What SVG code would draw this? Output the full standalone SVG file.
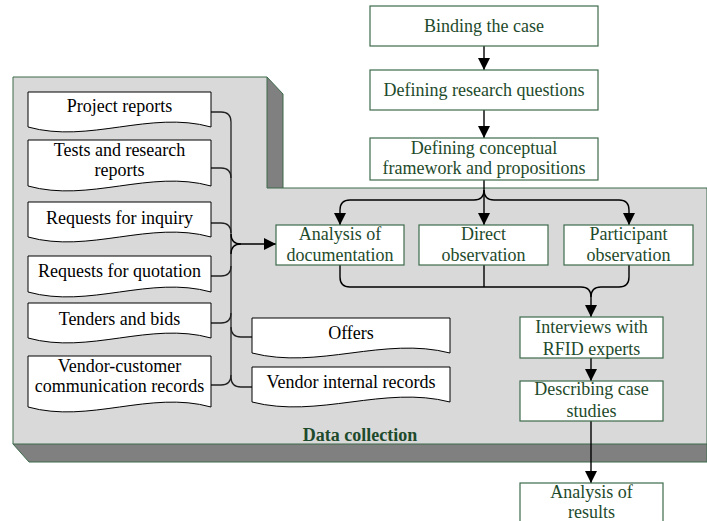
<svg xmlns="http://www.w3.org/2000/svg" width="707" height="521" viewBox="0 0 707 521">
<style>
.proc{fill:#fff;stroke:#3d6b4c;stroke-width:1.2}
.doc{fill:#fff;stroke:#000;stroke-width:1}
.pt{font-family:"Liberation Serif",serif;font-size:18px;fill:#1e4a2c;text-anchor:middle}
.dt{font-family:"Liberation Serif",serif;font-size:18px;fill:#000;text-anchor:middle}
.c{fill:none;stroke:#000;stroke-width:1.4}
.dc{fill:none;stroke:#222;stroke-width:1.3}
</style>
<defs>
<marker id="ah" markerUnits="userSpaceOnUse" markerWidth="12" markerHeight="12" viewBox="0 0 12 12" refX="12" refY="6" orient="auto">
<path d="M0,0 L12,6 L0,12 z" fill="#000"/>
</marker>
</defs>
<rect width="707" height="521" fill="#fff"/>
<g id="panel">
<polygon points="267,77 283,94 283,200 707,200 707,462 29,462 13,444" fill="#808080" stroke="#3d6b4c" stroke-width="1"/>
<polygon points="13,77 267,77 267,188 707,188 707,444 13,444" fill="#d9d9d9" stroke="#3d6b4c" stroke-width="1"/>
<text x="360" y="441" font-family="Liberation Serif,serif" font-size="18" font-weight="bold" fill="#1e4a2c" text-anchor="middle">Data collection</text>
</g>
<g id="connectors">
<path class="c" d="M484,46 V70" marker-end="url(#ah)"/>
<path class="c" d="M484,110 V138" marker-end="url(#ah)"/>
<path class="c" d="M484,180 V225" marker-end="url(#ah)"/>
<path class="c" d="M484,190 Q484,200 474,200 H350 Q340,200 340,210 V225" marker-end="url(#ah)"/>
<path class="c" d="M484,190 Q484,200 494,200 H619 Q629,200 629,210 V225" marker-end="url(#ah)"/>
<path class="c" d="M340,265 V277 Q340,287 350,287 H581 Q591,287 591,297 V317" marker-end="url(#ah)"/>
<path class="c" d="M484,265 V287"/>
<path class="c" d="M629,265 V277 Q629,287 619,287 H601 Q591,287 591,297"/>
<path class="c" d="M591,358 V381" marker-end="url(#ah)"/>
<path class="c" d="M591,421 V483" marker-end="url(#ah)"/>
<path class="dc" d="M211,112 H221 Q231,112 231,122 V377 Q231,387 241,387 H252"/>
<path class="dc" d="M211,168 H221 Q231,168 231,178"/>
<path class="dc" d="M211,223 H221 Q231,223 231,233"/>
<path class="dc" d="M211,276 H221 Q231,276 231,266"/>
<path class="dc" d="M211,323 H221 Q231,323 231,313"/>
<path class="dc" d="M211,385 H221 Q231,385 231,375"/>
<path class="dc" d="M231,327 Q231,337 241,337 H252"/>
<path class="c" stroke-width="2" d="M231,234 Q231,244 241,244 H276" marker-end="url(#ah)"/>
<path class="c" stroke-width="2" d="M231,254 Q231,244 241,244"/>
</g>
<g id="binding"><rect class="proc" x="370" y="6" width="228" height="40"/><text class="pt" x="484" y="32">Binding the case</text></g>
<g id="questions"><rect class="proc" x="370" y="70" width="228" height="40"/><text class="pt" x="484" y="96">Defining research questions</text></g>
<g id="framework"><rect class="proc" x="370" y="138" width="228" height="42"/><text class="pt" x="484" y="154">Defining conceptual</text><text class="pt" x="484" y="174">framework and propositions</text></g>
<g id="analysisdoc"><rect class="proc" x="276" y="225" width="128" height="40"/><text class="pt" x="340" y="240">Analysis of</text><text class="pt" x="340" y="261">documentation</text></g>
<g id="direct"><rect class="proc" x="419" y="225" width="129" height="40"/><text class="pt" x="483.5" y="240">Direct</text><text class="pt" x="483.5" y="261">observation</text></g>
<g id="participant"><rect class="proc" x="564" y="225" width="129" height="40"/><text class="pt" x="628.5" y="240">Participant</text><text class="pt" x="628.5" y="261">observation</text></g>
<g id="interviews"><rect class="proc" x="520" y="317" width="143" height="41"/><text class="pt" x="591.5" y="333">Interviews with</text><text class="pt" x="591.5" y="355">RFID experts</text></g>
<g id="describing"><rect class="proc" x="520" y="381" width="143" height="40"/><text class="pt" x="591.5" y="395">Describing case</text><text class="pt" x="591.5" y="417">studies</text></g>
<g id="results"><rect class="proc" x="520" y="483" width="143" height="50"/><text class="pt" x="591.5" y="498">Analysis of</text><text class="pt" x="591.5" y="518">results</text></g>
<g id="projectreports"><path class="doc" d="M28,92 H211 V127 C150,110 89,144 28,127 Z"/><text class="dt" x="119.5" y="112">Project reports</text></g>
<g id="tests"><path class="doc" d="M28,140 H211 V186 C150,169 89,203 28,186 Z"/><text class="dt" x="119.5" y="156">Tests and research</text><text class="dt" x="119.5" y="176">reports</text></g>
<g id="inquiry"><path class="doc" d="M28,202 H211 V237 C150,220 89,254 28,237 Z"/><text class="dt" x="119.5" y="224">Requests for inquiry</text></g>
<g id="quotation"><path class="doc" d="M28,256 H211 V292 C150,275 89,309 28,292 Z"/><text class="dt" x="119.5" y="277">Requests for quotation</text></g>
<g id="tenders"><path class="doc" d="M28,303 H211 V338 C150,321 89,355 28,338 Z"/><text class="dt" x="119.5" y="325">Tenders and bids</text></g>
<g id="vendorcustomer"><path class="doc" d="M28,356 H211 V407 C150,390 89,424 28,407 Z"/><text class="dt" x="119.5" y="372">Vendor-customer</text><text class="dt" x="119.5" y="392">communication records</text></g>
<g id="offers"><path class="doc" d="M252,318 H450 V353 C384,336 318,370 252,353 Z"/><text class="dt" x="351" y="339">Offers</text></g>
<g id="vendorinternal"><path class="doc" d="M252,367 H450 V402 C384,385 318,419 252,402 Z"/><text class="dt" x="351" y="388">Vendor internal records</text></g>
</svg>
